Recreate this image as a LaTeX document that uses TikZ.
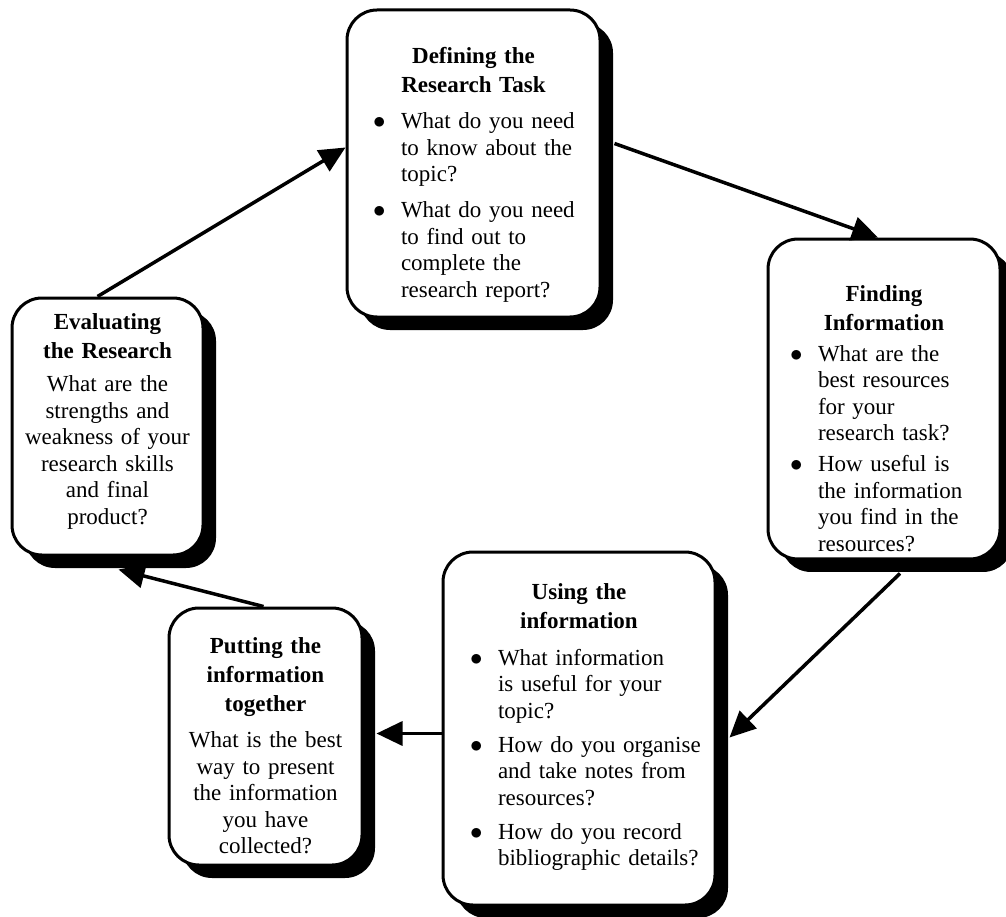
\documentclass[tikz,border=0pt]{standalone}
\usepackage{fontspec}
\setmainfont{Liberation Serif}
\usepackage{tikz}
\usetikzlibrary{arrows.meta, shadows}

\newcommand{\stagetitle}[2][0pt]{{\centering\bfseries\fontsize{23}{29}\selectfont
  \rule{0pt}{#1}#2\par}}
\newcommand{\qpoint}[2][7pt]{\par\vspace{#1}\noindent\makebox[28pt][l]{$\bullet$}%
  \begin{tabular}[t]{@{}l@{}}#2\end{tabular}\par}

\tikzset{
  stagebox/.style={draw, line width=3pt, rounded corners=30pt, fill=white,
    inner sep=0pt, font=\fontsize{23}{26.5}\selectfont,
    drop shadow={shadow xshift=13pt, shadow yshift=-13pt, fill=black, opacity=1}},
  flow/.style={-{Triangle[length=26pt,width=24pt]}, line width=3.5pt},
}

\begin{document}
\begin{tikzpicture}[x=1pt, y=-1pt]
  \useasboundingbox (0,0) rectangle (1006,917);

  % the five stages
  \node[stagebox, align=left, minimum width=253pt, minimum height=307pt,
        text width=201pt] (task) at (473.5,163.5) {%
    \stagetitle[42pt]{Defining the\\Research Task}
    \qpoint[9.5pt]{What do you need\\to know about the\\topic?}
    \qpoint[8.5pt]{What do you need\\to find out to\\complete the\\research report?}};
  \node[stagebox, align=left, minimum width=232pt, minimum height=312pt,
        text width=188pt] (find) at (884,399) {%
    \stagetitle[62pt]{Finding\\Information}
    \qpoint[4.5pt]{What are the\\best resources\\for your\\research task?}
    \qpoint[3.5pt]{How useful is\\the information\\you find in the\\resources?}};
  \node[stagebox, align=left, minimum width=272pt, minimum height=353pt,
        text width=218pt] (use) at (579,728.5) {%
    \stagetitle{Using the\\information}
    \qpoint[10.5pt]{What information\\is useful for your\\topic?}
    \qpoint[6.5pt]{How do you organise\\and take notes from\\resources?}
    \qpoint[6.5pt]{How do you record\\bibliographic details?}};
  \node[stagebox, align=center, minimum width=193pt, minimum height=257pt,
        text width=185pt] (put) at (265.5,736.5) {%
    \stagetitle[34pt]{Putting the\\information\\together}\vspace{10pt}
    What is the best\\way to present\\the information\\you have\\collected?};
  \node[stagebox, align=center, minimum width=191pt, minimum height=257pt,
        text width=185pt] (eval) at (107.5,426.5) {%
    \stagetitle{Evaluating\\the Research}\vspace{6.5pt}
    What are the\\strengths and\\weakness of your\\research skills\\and final\\product?\rule[-15pt]{0pt}{15pt}};

  % the cycle
  \draw[flow] ([xshift=13pt,yshift=20pt]task.east) -- ([xshift=-6pt]find.north);
  \draw[flow] ([xshift=16pt,yshift=-13pt]find.south) -- ([xshift=13pt,yshift=-9pt]use.east);
  \draw[flow] ([yshift=-5pt]use.west) -- ([xshift=13pt,yshift=3pt]put.east);
  \draw[flow] ([xshift=-2pt]put.north) -- ([xshift=11pt,yshift=-13pt]eval.south);
  \draw[flow] ([xshift=-10pt]eval.north) -- ([yshift=16pt]task.west);
\end{tikzpicture}
\end{document}
